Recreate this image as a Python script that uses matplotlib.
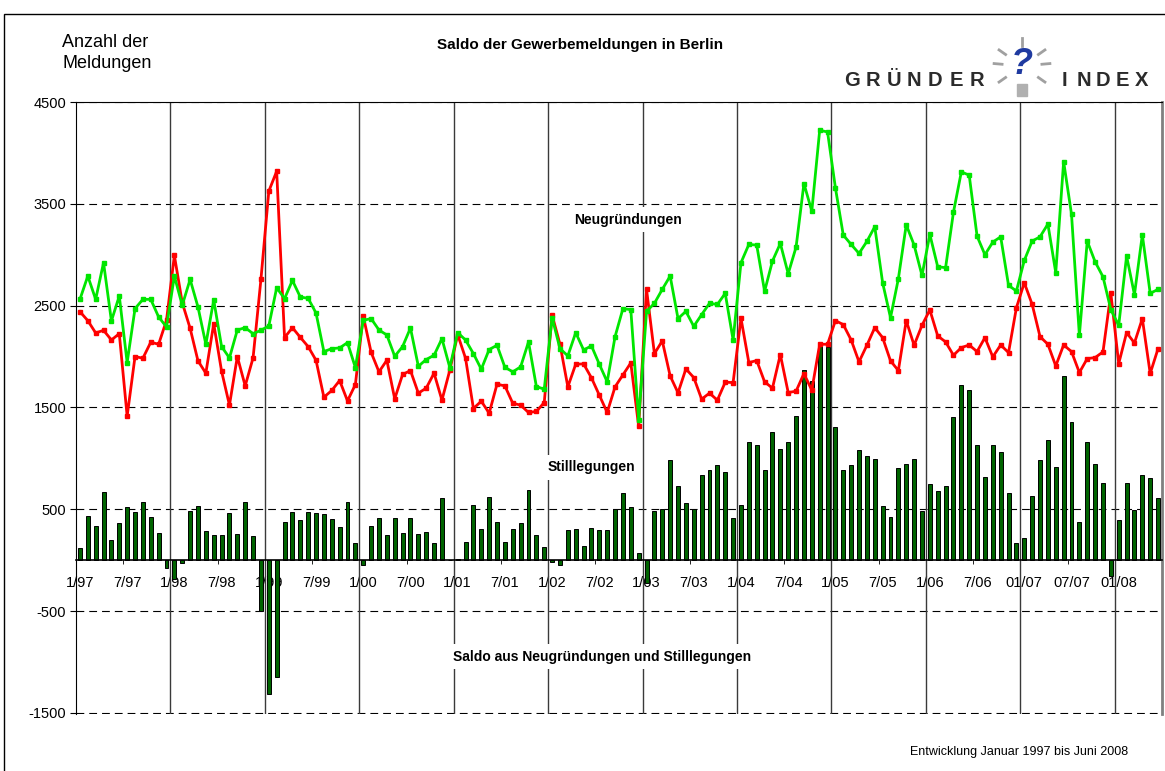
# Saldo der Gewerbemeldungen in Berlin, Jan 1997 - Jun 2008

# Import packages
import numpy as np
import matplotlib.pyplot as plt
from matplotlib.patches import Rectangle
from matplotlib.lines import Line2D

plt.rcParams['font.family'] = ['Liberation Sans', 'DejaVu Sans']
plt.rcParams['axes.unicode_minus'] = False

# Neugruendungen (green line), monthly, Jan 1997 - Jun 2008
neu = [2562, 2791, 2562, 2922, 2350, 2595, 1941, 2471, 2562, 2562, 2389, 2291,
       2791, 2503, 2758, 2487, 2121, 2556, 2098, 1987, 2261, 2284, 2225, 2258,
       2301, 2676, 2569, 2748, 2585, 2572, 2428, 2049, 2078, 2085, 2137, 1892,
       2356, 2373, 2261, 2212, 2003, 2098, 2281, 1905, 1971, 2013, 2176, 1892,
       2235, 2163, 2029, 1876, 2069, 2111, 1895, 1850, 1899, 2144, 1706, 1680,
       2382, 2078, 2007, 2235, 2065, 2105, 1925, 1752, 2196, 2471, 2461, 1379,
       2444, 2523, 2660, 2791, 2373, 2444, 2297, 2412, 2523, 2512, 2621, 2163,
       2922, 3101, 3095, 2641, 2938, 3111, 2814, 3075, 3699, 3428, 4222, 4206,
       3657, 3193, 3101, 3013, 3131, 3275, 2725, 2382, 2765, 3294, 3095, 2797,
       3199, 2882, 2873, 3418, 3814, 3781, 3183, 3000, 3124, 3176, 2699, 2644,
       2944, 3134, 3176, 3301, 2824, 3915, 3399, 2209, 3134, 2931, 2784, 2461,
       2307, 2987, 2608, 3196, 2621, 2660]

# Stilllegungen (red line)
still = [2441, 2353, 2232, 2258, 2163, 2225, 1415, 2000, 1984, 2141, 2121, 2356,
         2993, 2529, 2278, 1958, 1837, 2324, 1856, 1523, 2000, 1712, 1987, 2758,
         3624, 3820, 2186, 2284, 2189, 2098, 1964, 1601, 1667, 1765, 1565, 1725,
         2399, 2042, 1850, 1964, 1585, 1824, 1863, 1641, 1690, 1837, 1572, 1866,
         2216, 1984, 1490, 1562, 1444, 1729, 1712, 1542, 1523, 1451, 1461, 1549,
         2408, 2121, 1703, 1925, 1928, 1791, 1621, 1451, 1703, 1820, 1938, 1314,
         2660, 2029, 2154, 1810, 1644, 1879, 1794, 1582, 1641, 1572, 1748, 1745,
         2376, 1941, 1961, 1752, 1690, 2020, 1647, 1660, 1833, 1670, 2121, 2121,
         2353, 2314, 2163, 1948, 2111, 2284, 2186, 1958, 1863, 2353, 2111, 2307,
         2458, 2203, 2144, 2013, 2088, 2114, 2049, 2186, 1997, 2114, 2039, 2480,
         2725, 2513, 2196, 2121, 1908, 2114, 2049, 1843, 1980, 1990, 2046, 2621,
         1931, 2235, 2134, 2373, 1834, 2078]

# Saldo (bars)
saldo = [124, 435, 337, 670, 196, 369, 526, 471, 575, 425, 271, -72,
         -180, -23, 480, 529, 288, 245, 245, 467, 255, 575, 239, -503,
         -1317, -1144, 379, 471, 395, 474, 461, 454, 408, 324, 575, 167,
         -46, 333, 415, 252, 418, 271, 418, 261, 281, 173, 611, 7,
         16, 183, 539, 310, 621, 379, 183, 304, 369, 693, 245, 131,
         -20, -46, 301, 304, 141, 320, 301, 294, 500, 657, 523, 72,
         -219, 487, 507, 980, 729, 562, 507, 837, 886, 938, 866, 418,
         546, 1163, 1134, 889, 1255, 1095, 1163, 1415, 1866, 1758, 2105, 2090,
         1307, 882, 935, 1078, 1026, 990, 536, 425, 909, 941, 990, 487,
         748, 676, 729, 1409, 1725, 1670, 1134, 814, 1134, 1065, 663, 173,
         219, 627, 984, 1180, 918, 1807, 1353, 376, 1163, 944, 758, -154,
         392, 758, 490, 840, 804, 608]

# x tick labels, every 6 months
tick_labels = ['1/97', '7/97', '1/98', '7/98', '1/99', '7/99', '1/00', '7/00',
               '1/01', '7/01', '1/02', '7/02', '1/03', '7/03', '1/04', '7/04',
               '1/05', '7/05', '1/06', '7/06', '01/07', '07/07', '01/08']
y_ticks = [-1500, -500, 500, 1500, 2500, 3500, 4500]

W, H = 1165, 771
x = np.arange(len(neu))

fig = plt.figure(figsize=(W / 100, H / 100), dpi=100)
ax = fig.add_axes([76 / W, 1 - 714 / H, (1162 - 76) / W, (714 - 102) / H])

# year separators
for b in np.arange(11.5, len(x), 12):
    ax.axvline(b, color='#3a3a3a', lw=1, zorder=1)

ax.bar(x, saldo, width=0.5, color='#006400', edgecolor='black', lw=0.7, zorder=2)
ax.plot(x, still, color='#ff0000', lw=2, marker='s', ms=3.5, zorder=4)
ax.plot(x, neu, color='#00e600', lw=2, marker='s', ms=3.5, zorder=5)

ax.set_xlim(-0.5, len(x) - 0.5)
ax.set_ylim(-1510, 4500)
ax.set_yticks(y_ticks)
ax.set_xticks(np.arange(0, len(x), 6))
ax.set_xticklabels(tick_labels)
ax.set_xticks(np.arange(5.5, len(x), 6), minor=True)
ax.tick_params(axis='x', which='major', length=0, pad=11, labelsize=10.5)
ax.tick_params(axis='x', which='minor', length=3, direction='out')
ax.tick_params(axis='y', length=4, pad=3, labelsize=10.5)
ax.grid(axis='y', color='black', lw=0.8, ls=(0, (7, 4.5)))
ax.set_axisbelow(True)

ax.spines['bottom'].set_position(('data', 0))
ax.spines['bottom'].set_linewidth(1.2)
ax.spines['right'].set_color('#808080')
ax.spines['right'].set_linewidth(2)

# series labels
box = dict(fc='white', ec='none', pad=4)
ax.text(69.6, 3346, 'Neugründungen', ha='center', va='center', fontsize=10,
        fontweight='bold', bbox=box, zorder=6)
ax.text(65.0, 912, 'Stilllegungen', ha='center', va='center', fontsize=10,
        fontweight='bold', bbox=box, zorder=6)
ax.text(66.4, -948, 'Saldo aus Neugründungen und Stilllegungen', ha='center',
        va='center', fontsize=10, fontweight='bold', bbox=box, zorder=6)

# header texts
fig.text(580 / W, 1 - 45 / H, 'Saldo der Gewerbemeldungen in Berlin', ha='center',
         va='center', fontsize=11, fontweight='bold')
fig.text(62 / W, 1 - 53 / H, 'Anzahl der\nMeldungen', ha='left', va='center',
         fontsize=13, linespacing=1.3)
fig.text(1128 / W, 1 - 752 / H, 'Entwicklung Januar 1997 bis Juni 2008', ha='right',
         va='center', fontsize=9)

# logo
for i, ch in enumerate('GRÜNDER'):
    fig.text((852 + i * 20.8) / W, 1 - 80 / H, ch, ha='center', va='center',
             fontsize=14.5, fontweight='bold', color='#2b2b2b')
for i, ch in enumerate('INDEX'):
    fig.text((1064 + i * 19.5) / W, 1 - 80 / H, ch, ha='center', va='center',
             fontsize=14.5, fontweight='bold', color='#2b2b2b')
cx, cy = 1022, 66
for ang in [90, 35, 145, 5, 175, -35, -145]:
    a = np.radians(ang)
    x0, y0 = cx + 20 * np.cos(a), cy - 20 * np.sin(a)
    x1, y1 = cx + 28 * np.cos(a), cy - 28 * np.sin(a)
    fig.add_artist(Line2D([x0 / W, x1 / W], [1 - y0 / H, 1 - y1 / H],
                          transform=fig.transFigure, color='#a0a0a0', lw=2))
fig.text(cx / W, 1 - (cy - 2) / H, '?', ha='center', va='center', fontsize=26,
         fontweight='bold', style='italic', color='#1f3aa0')
fig.add_artist(Rectangle(((cx - 5) / W, 1 - 96 / H), 10 / W, 12 / H,
                         transform=fig.transFigure, color='#b0b0b0'))

# outer frame
fig.add_artist(Rectangle((4 / W, -0.01), 1.0, 1 - 14 / H + 0.01,
                         transform=fig.transFigure, fill=False, ec='black', lw=1))

plt.savefig('out.png', dpi=100)
